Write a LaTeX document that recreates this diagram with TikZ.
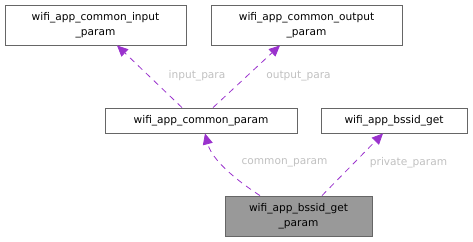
\documentclass[tikz,border=0pt]{standalone}
\usepackage{fontspec}
\setmainfont{DejaVu Sans}
\usetikzlibrary{arrows.meta, positioning}
\definecolor{edgepurple}{HTML}{9A32CD}
\definecolor{labelgrey}{HTML}{C0C0C0}
\definecolor{boxline}{HTML}{666666}
\definecolor{boxfill}{HTML}{999999}

\begin{document}
\begin{tikzpicture}[x=1pt, y=-1pt,
    classbox/.style={draw=boxline, line width=0.8pt, fill=white, inner sep=0pt,
      align=center, font=\fontsize{10.6}{15}\selectfont},
    uses/.style={edgepurple, line width=0.8pt, dash pattern=on 6pt off 5pt,
      -{Triangle[length=11pt, width=10pt]}},
    edgelabel/.style={text=labelgrey, font=\fontsize{10.6}{12}\selectfont}]
        \useasboundingbox (0,0) rectangle (473,241);

        % Classes
        \node[classbox, minimum width=181pt, minimum height=40pt] (input) at (95.5,25) {wifi\_app\_common\_input\\\_param};
        \node[classbox, minimum width=191pt, minimum height=40pt] (output) at (306.5,25) {wifi\_app\_common\_output\\\_param};
        \node[classbox, minimum width=192pt, minimum height=25pt] (common) at (201,120.5) {wifi\_app\_common\_param};
        \node[classbox, minimum width=146pt, minimum height=25pt] (bssid) at (394,120.5) {wifi\_app\_bssid\_get};
        \node[classbox, fill=boxfill, minimum width=147pt, minimum height=40pt] (getparam) at (298.5,216) {wifi\_app\_bssid\_get\\\_param};

        % Liens
        \draw[uses] ([xshift=-19pt]common.north) -- ([xshift=21.5pt]input.south);
        \draw[uses] ([xshift=12pt]common.north) -- ([xshift=-26.5pt]output.south);
        \draw[uses] ([xshift=-38.5pt]getparam.north) .. controls (236,180) and (212,160) .. ([xshift=4pt]common.south);
        \draw[uses] ([xshift=23.5pt]getparam.north) -- ([xshift=-11pt]bssid.south);

        % Labels des liens
        \node[edgelabel] (inlabel) at (197,76) {input\_para};
        \node[edgelabel] (outlabel) at (298.5,76) {output\_para};
        \node[edgelabel] (commonlabel) at (284.5,163) {common\_param};
        \node[edgelabel] (privlabel) at (408.5,163) {private\_param};
\end{tikzpicture}
\end{document}
